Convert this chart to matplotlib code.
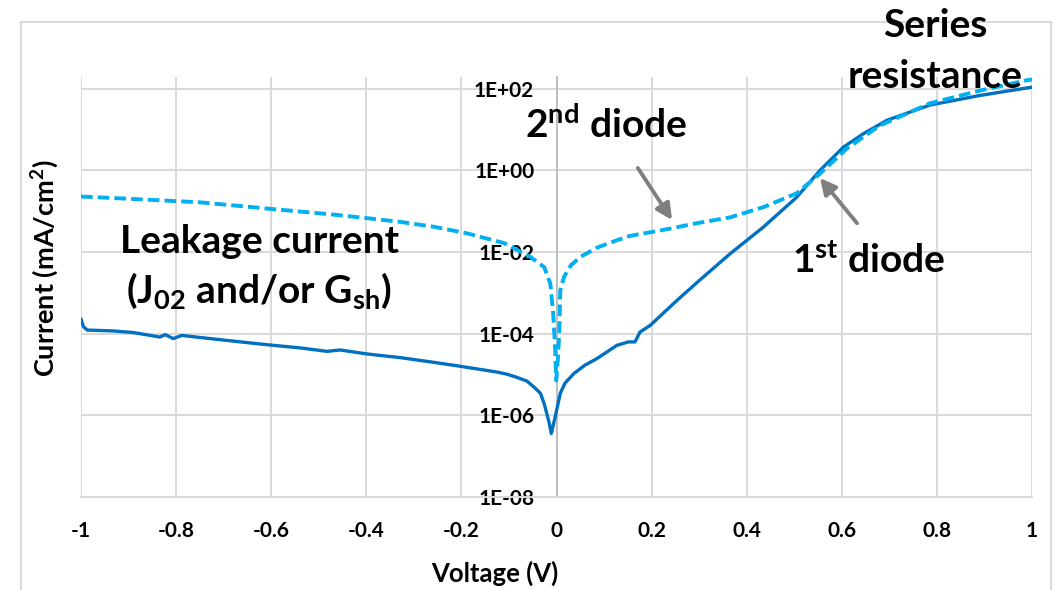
import matplotlib
matplotlib.use("Agg")
import matplotlib.pyplot as plt
from matplotlib.lines import Line2D
from matplotlib.ticker import FixedLocator
import numpy as np

plt.rcParams['font.family'] = ['Lato', 'DejaVu Sans']
plt.rcParams['mathtext.fontset'] = 'custom'
plt.rcParams['mathtext.rm'] = 'Lato:bold'
plt.rcParams['mathtext.it'] = 'Lato:bold'
plt.rcParams['mathtext.bf'] = 'Lato:bold'

# ---- data (voltage in V, current density in mA/cm^2) ----
solid_v = [-1.0, -0.995, -0.987, -0.932, -0.890, -0.834, -0.823, -0.806, -0.788,
           -0.750, -0.680, -0.610, -0.539, -0.483, -0.455, -0.399, -0.329, -0.259,
           -0.203, -0.154, -0.125, -0.104, -0.083, -0.062, -0.047, -0.034, -0.026,
           -0.015, -0.011, -0.003, 0.008, 0.018, 0.037, 0.060, 0.086, 0.127,
           0.151, 0.165, 0.1756, 0.197, 0.253, 0.30, 0.365, 0.435, 0.505, 0.554,
           0.603, 0.645, 0.695, 0.785, 0.891, 1.0]
solid_j = [2.3e-4, 1.5e-4, 1.23e-4, 1.17e-4, 1.07e-4, 8.3e-5, 9.5e-5, 7.6e-5, 9.1e-5,
           8.1e-5, 6.6e-5, 5.4e-5, 4.5e-5, 3.7e-5, 4.0e-5, 3.2e-5, 2.6e-5, 2.0e-5,
           1.6e-5, 1.3e-5, 1.15e-5, 1.02e-5, 8.5e-6, 6.9e-6, 4.9e-6, 3.5e-6, 1.95e-6,
           6.3e-7, 3.6e-7, 8.9e-7, 3.5e-6, 6.2e-6, 1.07e-5, 1.7e-5, 2.5e-5, 5.2e-5,
           6.3e-5, 6.3e-5, 1.1e-4, 1.6e-4, 6.5e-4, 2.0e-3, 9.1e-3, 4.1e-2, 0.22, 1.0,
           3.7, 7.9, 17, 40, 69, 110]

dash_v = [-1.0, -0.890, -0.750, -0.610, -0.469, -0.399, -0.329, -0.259, -0.189,
          -0.110, -0.055, -0.026, -0.013, -0.007, -0.003, -0.0006, 0.003, 0.006,
          0.008, 0.016, 0.030, 0.050, 0.086, 0.127, 0.155, 0.225, 0.295, 0.365,
          0.435, 0.505, 0.554, 0.610, 0.680, 0.785, 0.891, 0.989, 1.0]
dash_j = [0.23, 0.20, 0.166, 0.117, 0.083, 0.068, 0.055, 0.042, 0.029,
          0.0166, 0.0076, 0.0043, 0.0017, 3.2e-4, 4.7e-5, 7.2e-6, 2.5e-5, 1.2e-4,
          1.17e-3, 2.5e-3, 4.7e-3, 7.6e-3, 0.013, 0.0195, 0.025, 0.035, 0.051, 0.071,
          0.126, 0.275, 0.83, 3.4, 12.6, 44, 91, 162, 170]

x_ticks = [-1, -0.8, -0.6, -0.4, -0.2, 0, 0.2, 0.4, 0.6, 0.8, 1]
x_tick_labels = ['-1', '-0.8', '-0.6', '-0.4', '-0.2', '0', '0.2', '0.4', '0.6', '0.8', '1']
y_ticks = [1e-8, 1e-6, 1e-4, 1e-2, 1e0, 1e2]
y_tick_labels = ['1E-08', '1E-06', '1E-04', '1E-02', '1E+00', '1E+02']

W, H = 1058, 590
fig = plt.figure(figsize=(W / 100, H / 100), dpi=100)
fig.patch.set_facecolor('white')

def fx(px):
    return px / W

def fy(py):
    return 1 - py / H

ax = fig.add_axes([fx(81), fy(497), (1032 - 81) / W, (497 - 77) / H])
ax.set_yscale('log')
ax.set_xlim(-1, 1)
ax.set_ylim(1e-8, 10 ** 2.29)

grid_c = '#d9d9d9'
ax.xaxis.set_major_locator(FixedLocator(x_ticks))
ax.set_xticklabels(x_tick_labels)
ax.yaxis.set_major_locator(FixedLocator(y_ticks))
ax.yaxis.set_minor_locator(FixedLocator([]))
ax.set_yticklabels(y_tick_labels)
ax.grid(True, which='major', color=grid_c, linewidth=1.4, zorder=0)
ax.set_axisbelow(True)

for s in ['top', 'right']:
    ax.spines[s].set_visible(False)
ax.spines['bottom'].set_color(grid_c)
ax.spines['bottom'].set_linewidth(1.4)
ax.spines['left'].set_position(('data', 0))
ax.spines['left'].set_color('#bfbfbf')
ax.spines['left'].set_linewidth(1.4)

ax.tick_params(axis='x', length=0, pad=17, labelsize=15)
ax.tick_params(axis='y', length=0, pad=16, labelsize=15)
for lbl in ax.get_xticklabels() + ax.get_yticklabels():
    lbl.set_fontweight('bold')

ax.plot(solid_v, solid_j, color='#0070C0', linewidth=2.4, zorder=3,
        solid_joinstyle='round', solid_capstyle='round')
ax.plot(dash_v, dash_j, color='#00B0F0', linewidth=2.8, linestyle=(0, (3.0, 1.3)), zorder=4)

# arrows
arrow_kw = dict(arrowstyle='-|>', color='#7f7f7f', lw=2.8, mutation_scale=24,
                shrinkA=0, shrinkB=0)
ax.annotate('', xy=(0.243, 0.061), xytext=(0.171, 1.15), arrowprops=arrow_kw, zorder=5)
ax.annotate('', xy=(0.554, 0.655), xytext=(0.632, 0.051), arrowprops=arrow_kw, zorder=5)

# annotation texts
tkw = dict(fontsize=28, fontweight='bold', color='black')
fig.text(fx(260), fy(253), 'Leakage current', ha='center', va='baseline', **tkw)
fig.text(fx(259), fy(303), r'(J$_{02}$ and/or G$_{sh}$)', ha='center', va='baseline', **tkw)
fig.text(fx(935), fy(37), 'Series', ha='center', va='baseline', **tkw)
fig.text(fx(935), fy(88), 'resistance', ha='center', va='baseline', **tkw)
fig.text(fx(525), fy(138), r'2$^{nd}$ diode', ha='left', va='baseline', **tkw)
fig.text(fx(792), fy(273), r'1$^{st}$ diode', ha='left', va='baseline', **tkw)

# axis titles
fig.text(fx(495), fy(582), 'Voltage (V)', ha='center', va='baseline', fontsize=18.5, fontweight='bold')
fig.text(fx(45), fy(268), r'Current (mA/cm$^2$)', ha='center', va='center', rotation=90,
         fontsize=19.5, fontweight='bold')

# chart-area border
bc = '#d9d9d9'
fig.add_artist(Line2D([fx(21), fx(21)], [fy(22), 0], color=bc, lw=1.4))
fig.add_artist(Line2D([fx(21), fx(1051)], [fy(22), fy(22)], color=bc, lw=1.4))
fig.add_artist(Line2D([fx(1051), fx(1051)], [fy(22), 0], color=bc, lw=1.4))

fig.savefig('out.png', dpi=100)
